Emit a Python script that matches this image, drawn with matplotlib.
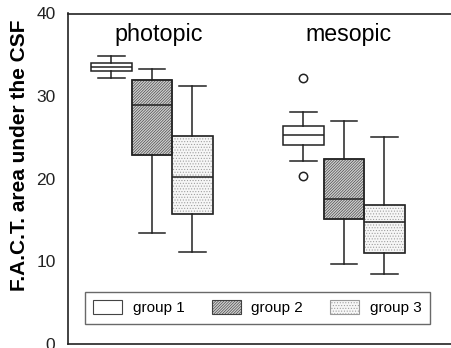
import matplotlib
matplotlib.use("Agg")
import matplotlib.pyplot as plt
from matplotlib.patches import Patch, PathPatch

plt.rcParams['font.family'] = ['Liberation Sans', 'DejaVu Sans']
plt.rcParams['hatch.linewidth'] = 0.45

conditions = ["photopic", "mesopic"]
groups = ["group 1", "group 2", "group 3"]

# per condition, per group: whislo, q1, med, q3, whishi
whislo = [[32.2, 13.4, 11.1], [22.2, 9.7, 8.5]]
q1 = [[33.0, 22.9, 15.7], [24.1, 15.1, 11.05]]
med = [[33.55, 28.9, 20.2], [25.3, 17.5, 14.8]]
q3 = [[33.95, 31.9, 25.2], [26.4, 22.4, 16.8]]
whishi = [[34.9, 33.3, 31.2], [28.1, 27.0, 25.0]]
fliers = [[[], [], []], [[32.2, 20.3], [], []]]

yticks = [0, 10, 20, 30, 40]

fig = plt.figure(figsize=(4.51, 3.48), dpi=100)
ax = fig.add_axes([68 / 451, 4 / 348, 1 - 68 / 451, (344 - 13.5) / 348])

starts = [1.0, 5.74]
face = ['white', '#d0d0d0', '#f6f6f6']
hatch_col = [None, '#404040', '#9a9a9a']
hatches = [None, '////////////', '......']
EDGE = '#222222'

for ci, cond in enumerate(conditions):
    stats = []
    for gi in range(3):
        stats.append(dict(whislo=whislo[ci][gi], q1=q1[ci][gi], med=med[ci][gi],
                          q3=q3[ci][gi], whishi=whishi[ci][gi], fliers=fliers[ci][gi]))
    pos = [starts[ci] + k for k in range(3)]
    bp = ax.bxp(stats, positions=pos, widths=1.0, patch_artist=True,
                capwidths=0.65,
                boxprops=dict(edgecolor=EDGE, linewidth=1.1),
                medianprops=dict(color=EDGE, linewidth=1.1),
                whiskerprops=dict(color=EDGE, linewidth=1.1),
                capprops=dict(color=EDGE, linewidth=1.1),
                flierprops=dict(marker='o', markerfacecolor='white',
                                markeredgecolor=EDGE, markersize=6,
                                markeredgewidth=1.1))
    for gi, b in enumerate(bp['boxes']):
        b.set_facecolor(face[gi])
        if hatches[gi]:
            b.set_hatch(hatches[gi])
            b.set_edgecolor(hatch_col[gi])
            outline = PathPatch(b.get_path(), transform=b.get_transform(),
                                facecolor='none', edgecolor=EDGE, linewidth=1.1,
                                zorder=b.get_zorder() + 0.1)
            ax.add_patch(outline)
    for m in bp['medians']:
        m.set_zorder(5)

ax.text(2.16, 37.5, conditions[0], ha='center', va='center', fontsize=16.8)
ax.text(6.86, 37.5, conditions[1], ha='center', va='center', fontsize=16.7)

ax.set_xlim(-0.074, 9.383)
ax.set_ylim(0, 40)
ax.set_yticks(yticks)
ax.set_yticklabels([str(t) for t in yticks], fontsize=12.5, color=EDGE)
ax.set_xticks([])
ax.tick_params(axis='y', length=0, pad=9)
ax.spines['right'].set_visible(False)
for s in ['left', 'top', 'bottom']:
    ax.spines[s].set_linewidth(1.2)
    ax.spines[s].set_color(EDGE)
ax.set_ylabel("F.A.C.T. area under the CSF", fontsize=15, fontweight='bold')
ax.yaxis.set_label_coords((29 - 68) / 383, (344 - 155) / 330.5)

handles = []
for gi, g in enumerate(groups):
    handles.append(Patch(facecolor=face[gi],
                         edgecolor=hatch_col[gi] if hatch_col[gi] else '#444444',
                         hatch=hatches[gi], linewidth=0.8, label=g))
leg = ax.legend(handles=handles, ncol=3, loc='upper left',
                bbox_to_anchor=(85 / 451, 1 - 292 / 348), bbox_transform=fig.transFigure,
                fontsize=11, frameon=True, fancybox=False, shadow=False,
                handlelength=1.9, handleheight=0.95, handletextpad=0.7,
                columnspacing=1.75, borderpad=0.55, borderaxespad=0)
leg.get_frame().set_edgecolor('#444444')
leg.get_frame().set_linewidth(1.0)

fig.savefig("out.png", dpi=100)
